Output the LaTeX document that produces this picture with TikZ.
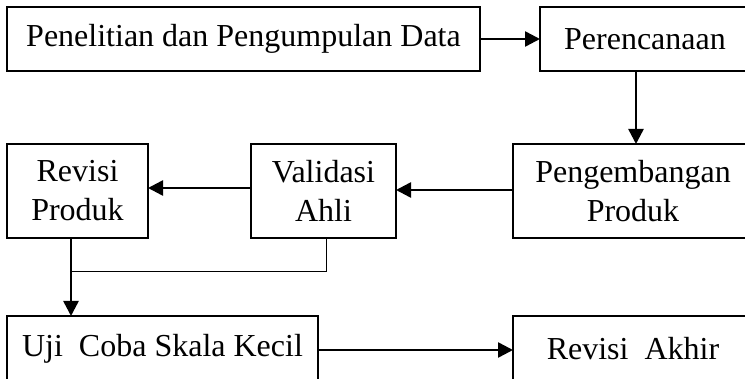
\documentclass[tikz,border=0pt]{standalone}
\usepackage{fontspec}
\setmainfont{Liberation Serif}
\usetikzlibrary{arrows.meta}

\begin{document}
\begin{tikzpicture}[x=1pt, y=-1pt,
  stage/.style={draw, line width=2.2pt, inner sep=0pt, outer sep=0pt, align=center,
    font=\fontsize{32}{39}\selectfont},
  arr/.style={line width=2.5pt, -{Triangle[length=15pt, width=15pt]}},
  thinline/.style={line width=1pt}]

\useasboundingbox (0,0) rectangle (745,379);
\clip (0,0) rectangle (745,379);
\fill[white] (0,0) rectangle (745,379);

% top row
\node[stage, minimum width=473pt, minimum height=64pt] (b1) at (243.5,39) {Penelitian dan Pengumpulan Data};
\node[stage, minimum width=210pt, minimum height=64pt] (b2) at (645,39) {Perencanaan};

% middle row
\node[stage, minimum width=141pt, minimum height=94pt] (rv) at (77.5,191) {Revisi\\Produk};
\node[stage, minimum width=145pt, minimum height=94pt] (va) at (323.5,191) {Validasi\\Ahli};
\node[stage, minimum width=240pt, minimum height=94pt] (pg) at (633,191) {Pengembangan\\Produk};

% bottom row
\node[stage, minimum width=311pt, minimum height=66pt] (uji) at (162.5,349) {Uji~ Coba Skala Kecil};
\node[stage, minimum width=240pt, minimum height=66pt] (ra) at (633,349) {Revisi~ Akhir};

% routing points
\coordinate (drop) at (71,0);
\coordinate (join) at (71,272);
\coordinate (down) at (636,0);

% connectors
\draw[arr] (b1) -- (b2);
\draw[arr] (b2.south -| down) -- (pg.north -| down);
\draw[arr] ([yshift=1pt]pg.west) -- ([yshift=1pt]va.east);
\draw[arr] ([yshift=3pt]va.west) -- ([yshift=3pt]rv.east);
\draw[thinline] ([xshift=2.5pt]va.south) |- (join);
\draw[arr] (rv.south -| drop) -- (uji.north -| drop);
\draw[arr] ([yshift=-1pt]uji.east) -- ([yshift=-1pt]ra.west);

\end{tikzpicture}
\end{document}
